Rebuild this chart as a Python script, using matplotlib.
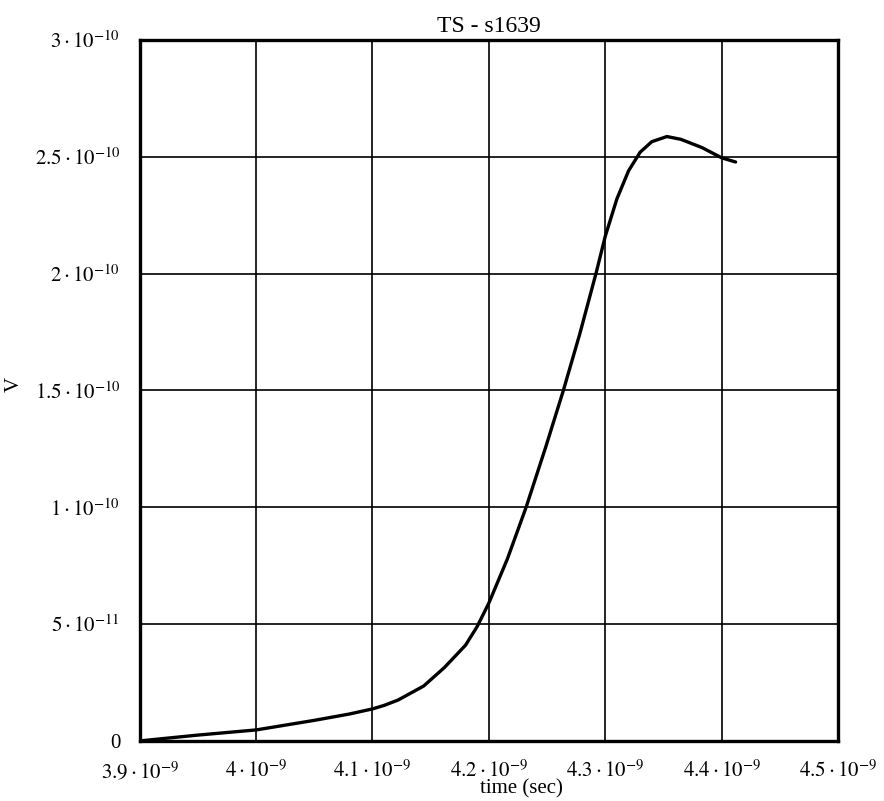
import matplotlib
matplotlib.use('Agg')
import matplotlib.pyplot as plt

# step response of s1639
time_ns = [3.90, 3.95, 4.00, 4.05, 4.08, 4.10, 4.11, 4.122, 4.144, 4.162, 4.18,
           4.19, 4.20, 4.216, 4.232, 4.249, 4.264, 4.278, 4.292, 4.30, 4.31,
           4.32, 4.33, 4.34, 4.353, 4.365, 4.383, 4.40, 4.412]
volts_e10 = [0.0, 0.025, 0.047, 0.088, 0.115, 0.137, 0.152, 0.175, 0.235, 0.315, 0.41,
             0.49, 0.59, 0.78, 1.00, 1.26, 1.50, 1.74, 2.00, 2.16, 2.32,
             2.44, 2.52, 2.565, 2.587, 2.575, 2.54, 2.496, 2.478]

x_ticks_ns = [3.9, 4.0, 4.1, 4.2, 4.3, 4.4, 4.5]
x_tick_labels = [r'$3.9\cdot10^{-9}$', r'$4\cdot10^{-9}$', r'$4.1\cdot10^{-9}$',
                 r'$4.2\cdot10^{-9}$', r'$4.3\cdot10^{-9}$', r'$4.4\cdot10^{-9}$',
                 r'$4.5\cdot10^{-9}$']
y_ticks_e10 = [0.0, 0.5, 1.0, 1.5, 2.0, 2.5, 3.0]
y_tick_labels = ['0', r'$5\cdot10^{-11}$', r'$1\cdot10^{-10}$', r'$1.5\cdot10^{-10}$',
                 r'$2\cdot10^{-10}$', r'$2.5\cdot10^{-10}$', r'$3\cdot10^{-10}$']

plt.rcParams['font.family'] = ['Liberation Serif', 'DejaVu Serif']
plt.rcParams['mathtext.fontset'] = 'stix'

t = [v * 1e-9 for v in time_ns]
volts = [v * 1e-10 for v in volts_e10]

fig = plt.figure(figsize=(8.84, 8.01), dpi=100)
ax = fig.add_axes([0.158, 0.075, 0.790, 0.875])

ax.plot(t, volts, color='black', linewidth=2.4, solid_capstyle='round',
        solid_joinstyle='round')

ax.set_xlim(3.9e-9, 4.5e-9)
ax.set_ylim(0, 3e-10)
ax.set_xticks([v * 1e-9 for v in x_ticks_ns])
ax.set_xticklabels(x_tick_labels, fontsize=15)
ax.set_yticks([v * 1e-10 for v in y_ticks_e10])
ax.set_yticklabels(y_tick_labels, fontsize=15)
ax.tick_params(length=0, pad=14)

ax.grid(True, color='black', linewidth=1.2)
ax.set_axisbelow(True)
for side in ax.spines.values():
    side.set_linewidth(2.4)

ax.set_title('TS - s1639', fontsize=17, pad=6)
ax.set_xlabel('time (sec)', fontsize=15)
ax.xaxis.set_label_coords(0.547, -0.055)
# y label sits at the far left edge of the figure
fig.text(0.016, 0.52, 'V', fontsize=15, rotation=90, ha='center', va='center')

fig.savefig('out.png', dpi=100)
